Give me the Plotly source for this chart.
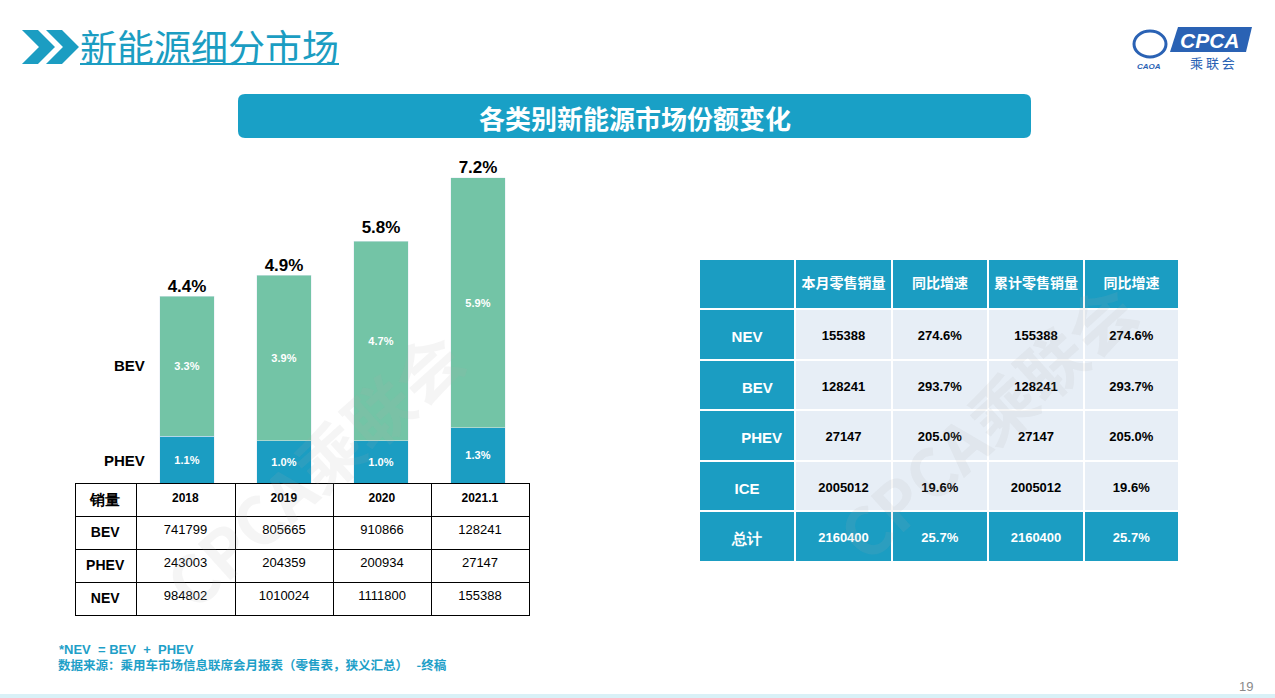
import plotly.graph_objects as go

W, H = 1275, 698

# ---------------- data ----------------
years = ['2018', '2019', '2020', '2021.1']
phev_share = [1.1, 1.0, 1.0, 1.3]
bev_share = [3.3, 3.9, 4.7, 5.9]
nev_share = [4.4, 4.9, 5.8, 7.2]

bev_sales = [741799, 805665, 910866, 128241]
phev_sales = [243003, 204359, 200934, 27147]
nev_sales = [984802, 1010024, 1111800, 155388]
left_rows = ['BEV', 'PHEV', 'NEV']

rt_header = ['', '本月零售销量', '同比增速', '累计零售销量', '同比增速']
rt_rows = ['NEV', 'BEV', 'PHEV', 'ICE', '总计']
rt_month = [155388, 128241, 27147, 2005012, 2160400]
rt_month_yoy = ['274.6%', '293.7%', '205.0%', '19.6%', '25.7%']
rt_cum = [155388, 128241, 27147, 2005012, 2160400]
rt_cum_yoy = ['274.6%', '293.7%', '205.0%', '19.6%', '25.7%']

# ---------------- style ----------------
TEAL = '#1b9dc2'
MINT = '#73c4a6'
LIGHT = '#e7eef6'
CJK = 'Noto Sans CJK SC'
LAT = 'Liberation Sans, Arial, sans-serif'
NB = '\u00a0'
rt_indent = {'BEV': 5, 'PHEV': 7}


def fx(x):
    return x / W


def fy(y):
    return 1 - y / H


def ann(x, y, text, size, color, family=LAT, xanchor='center', yanchor='middle', **kw):
    d = dict(x=fx(x), y=fy(y), xref='paper', yref='paper', showarrow=False,
             xanchor=xanchor, yanchor=yanchor, text=text,
             font=dict(family=family, size=size, color=color))
    d.update(kw)
    return d


def poly(pts):
    return 'M ' + ' L '.join(f'{fx(a):.5f},{fy(b):.5f}' for a, b in pts) + ' Z'


fig = go.Figure()

# stacked bars
fig.add_trace(go.Bar(
    x=years, y=phev_share, marker_color=TEAL, width=0.56, name='PHEV',
    text=[f'{v:.1f}%' for v in phev_share], textposition='inside',
    insidetextanchor='middle', constraintext='none',
    textfont=dict(color='white', size=11, family=LAT, weight='bold'),
    hoverinfo='skip'))
fig.add_trace(go.Bar(
    x=years, y=bev_share, marker_color=MINT, width=0.56, name='BEV',
    text=[f'{v:.1f}%' for v in bev_share], textposition='inside',
    insidetextanchor='middle', constraintext='none',
    textfont=dict(color='white', size=11, family=LAT, weight='bold'),
    hoverinfo='skip'))
fig.add_trace(go.Scatter(
    x=years, y=nev_share, mode='text',
    text=[f'{v:.1f}%' for v in nev_share], textposition='top center',
    textfont=dict(color='black', size=17, family=LAT, weight='bold'),
    hoverinfo='skip'))

# left table
left_cols = [[f'<b>{r}</b>' for r in left_rows]]
for i in range(len(years)):
    left_cols.append([bev_sales[i], phev_sales[i], nev_sales[i]])
fig.add_trace(go.Table(
    domain=dict(x=[fx(75), fx(529)], y=[fy(625), fy(483)]),
    columnwidth=[61, 99, 98, 98, 98],
    header=dict(values=['<b>销量</b>'] + [f'<b>{y}</b>' for y in years],
                height=30, fill_color='white', line=dict(color='black', width=1),
                align='center',
                font=dict(color='black', size=[15, 12, 12, 12, 12], family=LAT)),
    cells=dict(values=left_cols, height=33, fill_color='white',
               line=dict(color='black', width=1), align='center',
               font=dict(color='black', size=[14, 13, 13, 13, 13], family=LAT))))

# right table: grid (fills + white separators)
n = len(rt_rows)
ncol = len(rt_header)
fills = [[TEAL] * n] + [[LIGHT] * (n - 1) + [TEAL] for _ in range(ncol - 1)]
fcols = [['white'] * n] + [['black'] * (n - 1) + ['white'] for _ in range(ncol - 1)]
rt_x = [fx(699), fx(1179)]
rt_widths = [96, 97, 96, 96, 95]
fig.add_trace(go.Table(
    domain=dict(x=rt_x, y=[fy(580), fy(259)]),
    columnwidth=rt_widths,
    header=dict(values=[''] * ncol, height=50,
                fill_color=TEAL, line=dict(color='white', width=2)),
    cells=dict(values=[[''] * n for _ in range(ncol)],
               height=50.6, fill_color=fills, line=dict(color='white', width=2))))

# right table: text layer (transparent, offset so labels sit mid-row)
rt_labels = [f'<b>{NB * rt_indent.get(r, 0)}{r}</b>' for r in rt_rows]
fig.add_trace(go.Table(
    domain=dict(x=rt_x, y=[fy(590), fy(264)]),
    columnwidth=rt_widths,
    header=dict(values=[f'<b>{h}</b>' for h in rt_header], height=56,
                fill_color='rgba(0,0,0,0)', line=dict(color='rgba(0,0,0,0)', width=0),
                align='center', font=dict(color='white', size=14, family=CJK)),
    cells=dict(values=[rt_labels,
                       [f'<b>{v}</b>' for v in rt_month],
                       [f'<b>{v}</b>' for v in rt_month_yoy],
                       [f'<b>{v}</b>' for v in rt_cum],
                       [f'<b>{v}</b>' for v in rt_cum_yoy]],
               height=50.6, fill_color='rgba(0,0,0,0)',
               line=dict(color='rgba(0,0,0,0)', width=0), align='center',
               font=dict(color=fcols, size=[15, 13, 13, 13, 13], family=LAT))))

shapes = []
annotations = []

# watermarks
for cx, cy in ((312, 468), (985, 420)):
    annotations.append(ann(cx, cy, '<b>CPCA乘联会</b>', 66, 'rgba(170,170,170,0.12)',
                           family=CJK, textangle=-42))

# header chevrons
for dx in (0, 24):
    pts = [(22 + dx, 30), (38 + dx, 30), (55 + dx, 47), (38 + dx, 64), (22 + dx, 64), (39 + dx, 47)]
    shapes.append(dict(type='path', xref='paper', yref='paper', path=poly(pts),
                       fillcolor=TEAL, line=dict(width=0)))
annotations.append(ann(78, 46, '新能源细分市场', 37, TEAL, family=CJK, xanchor='left'))
shapes.append(dict(type='line', xref='paper', yref='paper', x0=fx(80), x1=fx(339),
                   y0=fy(64), y1=fy(64), line=dict(color=TEAL, width=2)))

# banner with rounded corners
x0, x1, y0, y1, r = 238, 1031, 94, 138, 7
bpath = (f'M {fx(x0 + r)},{fy(y0)} L {fx(x1 - r)},{fy(y0)} Q {fx(x1)},{fy(y0)} {fx(x1)},{fy(y0 + r)} '
         f'L {fx(x1)},{fy(y1 - r)} Q {fx(x1)},{fy(y1)} {fx(x1 - r)},{fy(y1)} '
         f'L {fx(x0 + r)},{fy(y1)} Q {fx(x0)},{fy(y1)} {fx(x0)},{fy(y1 - r)} '
         f'L {fx(x0)},{fy(y0 + r)} Q {fx(x0)},{fy(y0)} {fx(x0 + r)},{fy(y0)} Z')
shapes.append(dict(type='path', xref='paper', yref='paper', path=bpath,
                   fillcolor='#19a0c6', line=dict(width=0)))
annotations.append(ann(635, 117, '<b>各类别新能源市场份额变化</b>', 26, 'white', family=CJK))

# left category labels
for lab, yy in (('BEV', 366), ('PHEV', 460)):
    annotations.append(ann(147, yy, f'<b>{lab}</b>', 15, 'black', xanchor='right'))

# footnotes
annotations.append(ann(57, 649, '<b>*NEV  = BEV  +  PHEV</b>', 13, '#1ea0c8', xanchor='left'))
annotations.append(ann(56, 664, '<b>数据来源：乘用车市场信息联席会月报表（零售表，狭义汇总）   -终稿</b>',
                       12.5, '#1ea0c8', family=CJK, xanchor='left'))

# page number and bottom strip
annotations.append(ann(1246, 686, '19', 13, '#8a8a8a'))
shapes.append(dict(type='rect', xref='paper', yref='paper', x0=0, x1=1,
                   y0=0, y1=fy(694), fillcolor='#d9f1f7', line=dict(width=0)))

# logo
shapes.append(dict(type='path', xref='paper', yref='paper',
                   path=poly([(1178, 27), (1252, 27), (1246, 52), (1170, 52)]),
                   fillcolor='#2a62b4', line=dict(width=0)))
annotations.append(ann(1210, 40, '<b><i>CPCA</i></b>', 21, 'white'))
annotations.append(ann(1212, 62, '乘 联 会', 13, '#2a62b4', family=CJK))
shapes.append(dict(type='circle', xref='paper', yref='paper', x0=fx(1134), x1=fx(1166),
                   y0=fy(57), y1=fy(31), line=dict(color='#2a62b4', width=3)))
annotations.append(ann(1149, 66, '<b><i>CAOA</i></b>', 8, '#2a62b4'))

fig.update_layout(
    width=W, height=H, margin=dict(l=0, r=0, t=0, b=0),
    paper_bgcolor='white', plot_bgcolor='white', showlegend=False,
    barmode='stack',
    xaxis=dict(domain=[fx(138.5), fx(526.5)], range=[-0.5, 3.5], visible=False, fixedrange=True),
    yaxis=dict(domain=[fy(483), fy(150)], range=[0, 333 / 42.4], visible=False, fixedrange=True),
    shapes=shapes, annotations=annotations,
)

fig.write_html('out.html', config={'displayModeBar': False},
               post_script="document.body.style.margin='0px';")
